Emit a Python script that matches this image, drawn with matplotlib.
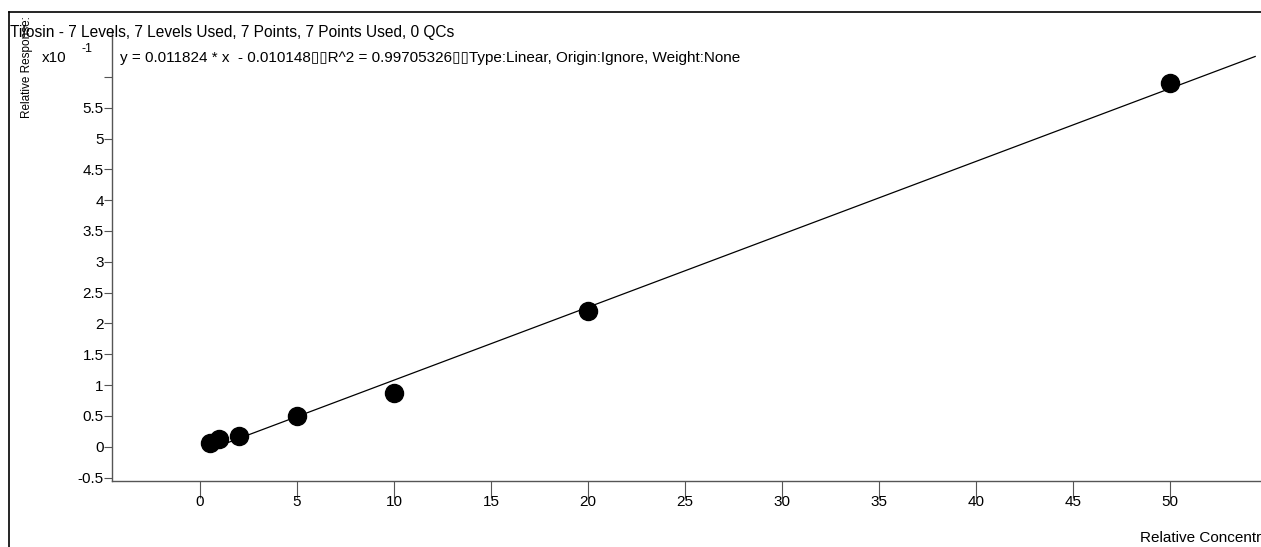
import matplotlib
matplotlib.use("Agg")
import numpy as np
import matplotlib.pyplot as plt
from matplotlib.lines import Line2D

# calibration levels (relative concentration) and measured relative response
conc = [0.5, 1, 2, 5, 10, 20, 50]
response = [0.006, 0.0125, 0.017, 0.050, 0.087, 0.220, 0.590]

# linear fit reported by the software
slope = 0.011824
intercept = -0.010148
r2 = 0.99705326

y_ticks = [-0.5, 0, 0.5, 1, 1.5, 2, 2.5, 3, 3.5, 4, 4.5, 5, 5.5, 6]
y_tick_labels = ["-0.5", "0", "0.5", "1", "1.5", "2", "2.5", "3", "3.5", "4",
                 "4.5", "5", "5.5", ""]
x_ticks = [0, 5, 10, 15, 20, 25, 30, 35, 40, 45, 50]

scale = 1e-1  # response axis shown in units of x10^-1

plt.rcParams["font.family"] = ["Liberation Sans", "DejaVu Sans"]
plt.rcParams["font.size"] = 11

W, H = 1261, 547
fig = plt.figure(figsize=(W / 100, H / 100), dpi=100)


def px(x, y):
    return x / W, 1 - y / H


ax = fig.add_axes([112 / W, 1 - 481 / H, (W - 112) / W, (481 - 30) / H])

edge = "#555555"
for side in ["top", "right"]:
    ax.spines[side].set_visible(False)
for side in ["left", "bottom"]:
    ax.spines[side].set_color(edge)
    ax.spines[side].set_linewidth(1.0)

# fitted calibration line
xf = np.array([min(conc), 54.4])
ax.plot(xf, (slope * xf + intercept) / scale, color="black", lw=0.9,
        zorder=2)
ax.plot(conc, np.array(response) / scale, "o", color="black", ms=13,
        zorder=3)

ax.set_xlim(-4.54, 54.7)
ax.set_ylim(-0.555, 6.76)
ax.set_xticks(x_ticks)
ax.set_xticklabels([str(t) for t in x_ticks])
ax.set_yticks(y_ticks)
ax.set_yticklabels(y_tick_labels)
ax.tick_params(axis="x", direction="out", length=12, pad=-2, color=edge,
               labelsize=11)
ax.tick_params(axis="y", direction="out", length=6, pad=0, color=edge,
               labelsize=11)

# frame around the plot area
fig.add_artist(Line2D([9 / W, 1], [1 - 12 / H, 1 - 12 / H], color="black",
                      lw=1.2, transform=fig.transFigure))
fig.add_artist(Line2D([9 / W, 9 / W], [1 - 12 / H, 0], color="black",
                      lw=1.2, transform=fig.transFigure))

fig.text(*px(10, 32), "Tilosin - 7 Levels, 7 Levels Used, 7 Points, "
         "7 Points Used, 0 QCs", ha="left", va="center", fontsize=11.2)
eq = (f"y = {slope} * x  - {abs(intercept)}\u25af\u25afR^2 = {r2}"
      "\u25af\u25afType:Linear, Origin:Ignore, Weight:None")
fig.text(*px(120, 58), eq, ha="left", va="center", fontsize=11)
fig.text(*px(42, 58), "x10", ha="left", va="center", fontsize=11)
fig.text(*px(82, 49), "-1", ha="left", va="center", fontsize=9)
fig.text(*px(27, 67), "Relative Response:", rotation=90, ha="center",
         va="center", fontsize=8.5)
fig.text(*px(1140, 538), "Relative Concentration", ha="left",
         va="center", fontsize=11)

fig.savefig("out.png", dpi=100)
